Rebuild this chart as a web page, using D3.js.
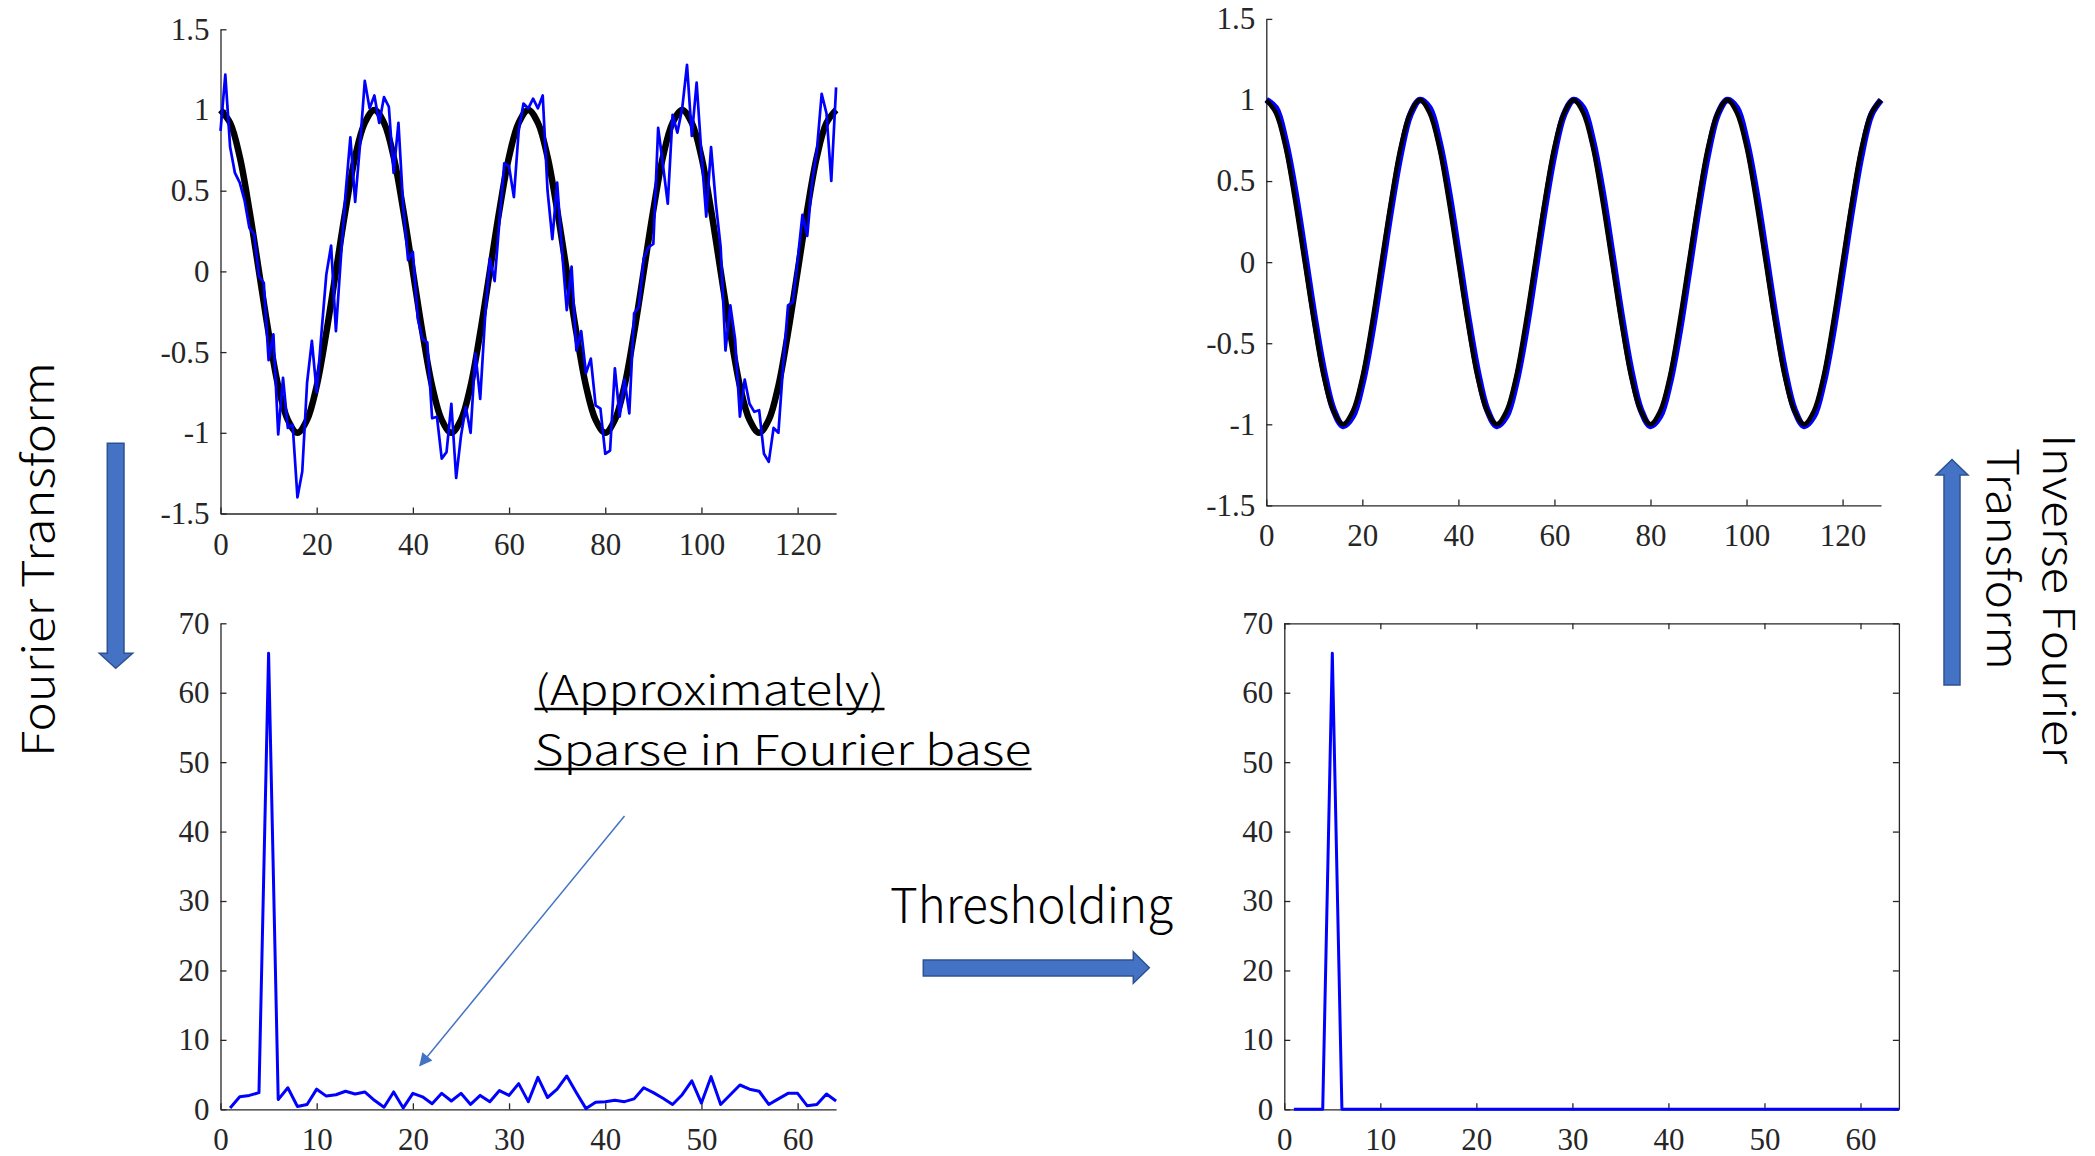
<!DOCTYPE html>
<html>
<head>
<meta charset="utf-8">
<script src="https://cdn.jsdelivr.net/npm/d3@7"></script>
<style>
  body { margin: 0; background: #fff; }
  .note { font-family: "Noto Sans CJK JP", "Noto Sans", sans-serif; font-weight: 300; font-size: 48px; fill: #000; }
  .side { font-size: 44px; }
  .sparse { font-size: 41px; }
</style>
</head>
<body>
<div id="chart"></div>
<script>
// ---- data ----

// noisy signal, one sample per x = 0..128
const noisySignal = [
  0.87, 1.22, 0.77, 0.61, 0.55, 0.44, 0.27, 0.23, -0.03, -0.07,
  -0.55, -0.39, -1.01, -0.66, -0.97, -0.95, -1.40, -1.24, -0.69, -0.43,
  -0.75, -0.38, -0.02, 0.16, -0.37, 0.07, 0.48, 0.83, 0.43, 0.78,
  1.18, 1.01, 1.09, 0.92, 1.08, 1.02, 0.61, 0.92, 0.40, 0.07,
  0.12, -0.29, -0.42, -0.44, -0.91, -0.90, -1.16, -1.12, -0.82, -1.28,
  -1.02, -0.84, -1.00, -0.51, -0.79, -0.29, 0.08, -0.06, 0.31, 0.67,
  0.65, 0.46, 0.87, 1.04, 1.01, 1.07, 1.01, 1.09, 0.50, 0.20,
  0.55, 0.13, -0.24, 0.03, -0.49, -0.37, -0.63, -0.54, -0.83, -0.85,
  -1.13, -1.11, -0.60, -0.90, -0.67, -0.88, -0.26, -0.22, 0.08, 0.15,
  0.17, 0.89, 0.66, 0.42, 0.97, 0.86, 1.01, 1.28, 0.84, 1.17,
  0.73, 0.34, 0.77, 0.42, 0.15, -0.49, -0.21, -0.42, -0.90, -0.67,
  -0.82, -0.87, -0.86, -1.13, -1.18, -0.97, -1.00, -0.58, -0.21, -0.19,
  0.07, 0.35, 0.22, 0.55, 0.75, 1.10, 0.98, 0.56, 1.14
];

// clean signal (black), one sample per x = 0, 2, 4 .. 128
const cleanSignal = [
  1, 0.92, 0.71, 0.38, 0, -0.38, -0.71, -0.92, -1, -0.92, -0.71, -0.38, 0, 0.38, 0.71, 0.92,
  1, 0.92, 0.71, 0.38, 0, -0.38, -0.71, -0.92, -1, -0.92, -0.71, -0.38, 0, 0.38, 0.71, 0.92,
  1, 0.92, 0.71, 0.38, 0, -0.38, -0.71, -0.92, -1, -0.92, -0.71, -0.38, 0, 0.38, 0.71, 0.92,
  1, 0.92, 0.71, 0.38, 0, -0.38, -0.71, -0.92, -1, -0.92, -0.71, -0.38, 0, 0.38, 0.71, 0.92,
  1
];

// reconstructed signal (blue, top right), same x grid
const rebuiltSignal = [
  1.00, 0.95, 0.75, 0.44, 0.06, -0.33, -0.67, -0.91, -1.01, -0.95, -0.75, -0.44, -0.06, 0.33, 0.67, 0.91,
  1.00, 0.95, 0.75, 0.44, 0.06, -0.33, -0.67, -0.91, -1.01, -0.95, -0.75, -0.44, -0.06, 0.33, 0.67, 0.91,
  1.00, 0.95, 0.75, 0.44, 0.06, -0.33, -0.67, -0.91, -1.01, -0.95, -0.75, -0.44, -0.06, 0.33, 0.67, 0.91,
  1.00, 0.95, 0.75, 0.44, 0.06, -0.33, -0.67, -0.91, -1.01, -0.95, -0.75, -0.44, -0.06, 0.33, 0.67, 0.91,
  1.00
];

// fourier magnitudes, x = 1..64
const spectrum = [
  0.2, 1.8, 2.0, 2.4, 65.7, 1.4, 3.1, 0.4, 0.7, 2.9,
  1.9, 2.1, 2.6, 2.2, 2.5, 1.3, 0.3, 2.5, 0.2, 2.3,
  1.8, 0.8, 2.3, 1.2, 2.3, 0.7, 2.0, 1.1, 2.7, 2.0,
  3.7, 1.1, 4.6, 1.7, 2.9, 4.8, 2.4, 0.1, 1.0, 1.1,
  1.3, 1.1, 1.5, 3.1, 2.4, 1.6, 0.7, 2.1, 4.1, 0.9,
  4.7, 0.7, 2.1, 3.5, 2.9, 2.6, 0.7, 1.5, 2.3, 2.3,
  0.5, 0.7, 2.2, 1.2
];

// after thresholding, x = 1..64
const thresholded = [
  0, 0, 0, 0, 65.7, 0, 0, 0, 0, 0,
  0, 0, 0, 0, 0, 0, 0, 0, 0, 0,
  0, 0, 0, 0, 0, 0, 0, 0, 0, 0,
  0, 0, 0, 0, 0, 0, 0, 0, 0, 0,
  0, 0, 0, 0, 0, 0, 0, 0, 0, 0,
  0, 0, 0, 0, 0, 0, 0, 0, 0, 0,
  0, 0, 0, 0
];

// ticks
const timeTicks = [0, 20, 40, 60, 80, 100, 120];
const ampTicks = [-1.5, -1, -0.5, 0, 0.5, 1, 1.5];
const ampTickLabels = ["-1.5", "-1", "-0.5", "0", "0.5", "1", "1.5"];
const freqTicks = [0, 10, 20, 30, 40, 50, 60];
const magTicks = [0, 10, 20, 30, 40, 50, 60, 70];

// ---- drawing ----
const width = 2095;
const height = 1156;
const axisColor = "#262626";

const svg = d3.select("#chart").append("svg")
    .attr("width", width)
    .attr("height", height)
    .style("background", "#fff");

// style an axis group like matlab
function styleAxis(sel) {
    sel.select(".domain").attr("stroke", axisColor).attr("stroke-width", 1.3);
    sel.selectAll(".tick line").attr("stroke", axisColor).attr("stroke-width", 1.3);
    sel.selectAll(".tick text")
        .attr("fill", axisColor)
        .style("font-family", "'Liberation Serif', 'Times New Roman', serif")
        .style("font-size", "31px");
}

// one matlab style axes box
function drawPanel(p) {
    const x = d3.scaleLinear().domain(p.xDomain).range([p.left, p.right]);
    const y = d3.scaleLinear().domain(p.yDomain).range([p.bottom, p.top]);
    const g = svg.append("g");

    const yFormat = p.yLabels ? (d, i) => p.yLabels[i] : d3.format("d");

    g.append("g")
        .attr("transform", `translate(0,${p.bottom})`)
        .call(d3.axisBottom(x).tickValues(p.xTicks).tickFormat(d3.format("d"))
            .tickSize(-6).tickSizeOuter(0).tickPadding(19))
        .call(styleAxis);

    g.append("g")
        .attr("transform", `translate(${p.left},0)`)
        .call(d3.axisLeft(y).tickValues(p.yTicks).tickFormat(yFormat)
            .tickSize(-6).tickSizeOuter(0).tickPadding(11))
        .call(styleAxis);

    if (p.box) {
        g.append("g")
            .attr("transform", `translate(0,${p.top})`)
            .call(d3.axisTop(x).tickValues(p.xTicks).tickFormat("")
                .tickSize(-6).tickSizeOuter(0))
            .call(styleAxis);
        g.append("g")
            .attr("transform", `translate(${p.right},0)`)
            .call(d3.axisRight(y).tickValues(p.yTicks).tickFormat("")
                .tickSize(-6).tickSizeOuter(0))
            .call(styleAxis);
    }
    return { x, y, g };
}

function addLine(panel, xs, ys, color, w, curve) {
    const line = d3.line()
        .x((d, i) => panel.x(xs[i]))
        .y(d => panel.y(d))
        .curve(curve || d3.curveLinear);
    panel.g.append("path")
        .datum(ys)
        .attr("d", line)
        .attr("fill", "none")
        .attr("stroke", color)
        .attr("stroke-width", w)
        .attr("stroke-linejoin", "round");
}

const noisyX = d3.range(0, 129);
const smoothX = d3.range(0, 129, 2);
const freqX = d3.range(1, 65);

// top left: noisy vs clean signal
const topLeft = drawPanel({
    xDomain: [0, 128], yDomain: [-1.5, 1.5],
    left: 220.5, right: 836.1, top: 29.3, bottom: 513.5,
    xTicks: timeTicks, yTicks: ampTicks, yLabels: ampTickLabels
});
addLine(topLeft, smoothX, cleanSignal, "#000", 6.5, d3.curveCatmullRom);
addLine(topLeft, noisyX, noisySignal, "#0000ff", 2.7);

// top right: reconstruction
const topRight = drawPanel({
    xDomain: [0, 128], yDomain: [-1.5, 1.5],
    left: 1266.3, right: 1881, top: 18.9, bottom: 505.4,
    xTicks: timeTicks, yTicks: ampTicks, yLabels: ampTickLabels
});
addLine(topRight, smoothX, rebuiltSignal, "#0000ff", 6.5, d3.curveCatmullRom);
addLine(topRight, smoothX, cleanSignal, "#000", 4.5, d3.curveCatmullRom);

// bottom left: spectrum
const bottomLeft = drawPanel({
    xDomain: [0, 64], yDomain: [0, 70],
    left: 220.5, right: 836.1, top: 623.3, bottom: 1109.3,
    xTicks: freqTicks, yTicks: magTicks
});
addLine(bottomLeft, freqX, spectrum, "#0000ff", 3);

// bottom right: thresholded spectrum
const bottomRight = drawPanel({
    xDomain: [0, 64], yDomain: [0, 70],
    left: 1284.3, right: 1898.9, top: 623.3, bottom: 1109.3,
    xTicks: freqTicks, yTicks: magTicks, box: true
});
addLine(bottomRight, freqX, thresholded, "#0000ff", 3);

// ---- annotations ----
const arrowFill = "#4472c4";
const arrowEdge = "#2f528f";

function blockArrow(points) {
    svg.append("polygon")
        .attr("points", points.map(p => p.join(",")).join(" "))
        .attr("fill", arrowFill)
        .attr("stroke", arrowEdge)
        .attr("stroke-width", 1.5);
}

// fourier transform, pointing down
blockArrow([[107.3, 443.3], [124, 443.3], [124, 653.3], [132.7, 653.3],
            [115.7, 668.3], [99.3, 653.3], [107.3, 653.3]]);
// inverse transform, pointing up
blockArrow([[1944, 685], [1960, 685], [1960, 475], [1968, 475],
            [1952, 459.5], [1936, 475], [1944, 475]]);
// thresholding, pointing right
blockArrow([[923.3, 960], [1133.3, 960], [1133.3, 951.7], [1149.3, 967.8],
            [1133.3, 983.3], [1133.3, 976], [923.3, 976]]);

svg.append("text").attr("class", "note side")
    .attr("transform", "translate(54,757) rotate(-90)")
    .attr("textLength", 395).attr("lengthAdjust", "spacingAndGlyphs")
    .text("Fourier Transform");

svg.append("text").attr("class", "note side")
    .attr("transform", "translate(2043,434) rotate(90)")
    .attr("textLength", 330).attr("lengthAdjust", "spacingAndGlyphs")
    .text("Inverse Fourier");
svg.append("text").attr("class", "note side")
    .attr("transform", "translate(1987,448) rotate(90)")
    .attr("textLength", 222).attr("lengthAdjust", "spacingAndGlyphs")
    .text("Transform");

svg.append("text").attr("class", "note")
    .attr("x", 890).attr("y", 923)
    .attr("textLength", 283).attr("lengthAdjust", "spacingAndGlyphs")
    .text("Thresholding");

// underlined two line note with its pointer
const noteLines = [
    { text: "(Approximately)", y: 705, len: 350 },
    { text: "Sparse in Fourier base", y: 765, len: 497 }
];
noteLines.forEach(n => {
    svg.append("text").attr("class", "note sparse")
        .attr("x", 534.5).attr("y", n.y)
        .attr("textLength", n.len).attr("lengthAdjust", "spacingAndGlyphs")
        .text(n.text);
    svg.append("line")
        .attr("x1", 534.5).attr("x2", 534.5 + n.len)
        .attr("y1", n.y + 4).attr("y2", n.y + 4)
        .attr("stroke", "#000").attr("stroke-width", 2.5);
});

svg.append("defs").append("marker")
    .attr("id", "head")
    .attr("viewBox", "0 0 10 10")
    .attr("refX", 9).attr("refY", 5)
    .attr("markerWidth", 17).attr("markerHeight", 13)
    .attr("markerUnits", "userSpaceOnUse")
    .attr("orient", "auto")
    .append("path")
    .attr("d", "M0,0 L10,5 L0,10 Z")
    .attr("fill", arrowFill);

svg.append("line")
    .attr("x1", 624.5).attr("y1", 816)
    .attr("x2", 420).attr("y2", 1065.5)
    .attr("stroke", arrowFill)
    .attr("stroke-width", 1.5)
    .attr("marker-end", "url(#head)");
</script>
</body>
</html>
